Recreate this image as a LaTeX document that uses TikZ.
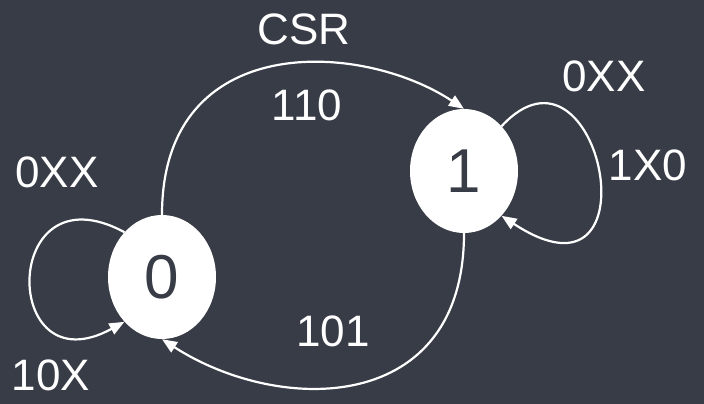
\documentclass[tikz,border=0pt]{standalone}
\usepackage{fontspec}
\setmainfont{Liberation Sans}
\usetikzlibrary{arrows.meta,shapes.geometric}
\definecolor{bgc}{RGB}{55,60,70}
\begin{document}
\begin{tikzpicture}[x=1pt,y=-1pt,
  statenode/.style={ellipse,fill=white,draw=none,inner sep=0pt,minimum width=108pt,minimum height=124pt,text=bgc,font=\fontsize{62}{62}\selectfont},
  lbl/.style={inner sep=0pt,text=white,font=\fontsize{44}{44}\selectfont},
  edge/.style={draw=white,line width=2.2pt,-{Triangle[length=15pt,width=12pt]}}]
\fill[bgc] (0,0) rectangle (704,404);
\useasboundingbox (0,0) rectangle (704,404);
\node[statenode] (n0) at (162,277) {0};
\node[statenode] (n1) at (464,171) {1};
\draw[edge] (n0.north) .. controls +(0,-185) and +(-103,-68) .. (n1.north);
\draw[edge] (n1.south) .. controls +(0,182) and +(118,76) .. (n0.south);
\draw[edge] (n0.130) .. controls (0,165) and (0,390) .. (n0.230);
\draw[edge] (n1.50) .. controls (600,20) and (660,320) .. (n1.-50);
\node[lbl] (tcsr) at (304,29) {CSR};
\node[lbl] (t110) at (307,105) {110};
\node[lbl] (t0xxa) at (57,172) {0XX};
\node[lbl] (t10x) at (51,375) {10X};
\node[lbl] (t0xxb) at (604,76) {0XX};
\node[lbl] (t1x0) at (648,165) {1X0};
\node[lbl] (t101) at (333,331) {101};
\end{tikzpicture}
\end{document}
